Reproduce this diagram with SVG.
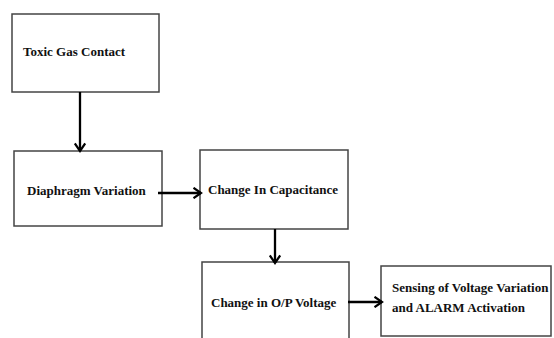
<svg xmlns="http://www.w3.org/2000/svg" width="554" height="338" viewBox="0 0 554 338">
<defs>
<marker id="ah" viewBox="0 0 12 12" refX="10.5" refY="6" markerWidth="12" markerHeight="12" markerUnits="userSpaceOnUse" orient="auto">
<path d="M3,0.8 L10.5,6 L3,11.2" fill="none" stroke="#000" stroke-width="2.2"/>
</marker>
<style>
.box{fill:#fff;stroke:#444;stroke-width:1.5}
.t{font-family:"Liberation Serif","Times New Roman",serif;font-weight:bold;font-size:13px;fill:#111}
.c{fill:none;stroke:#000;stroke-width:2.3;marker-end:url(#ah)}
</style>
</defs>
<rect width="554" height="338" fill="#fff"/>
<g id="n1"><rect class="box" x="12" y="14" width="147" height="78"/><text class="t" x="23" y="56">Toxic Gas Contact</text></g>
<g id="n2"><rect class="box" x="14" y="151" width="148" height="75"/><text class="t" x="27" y="195">Diaphragm Variation</text></g>
<g id="n3"><rect class="box" x="200" y="150" width="148" height="79"/><text class="t" x="208" y="194">Change In Capacitance</text></g>
<g id="n4"><rect class="box" x="202" y="262" width="147" height="90"/><text class="t" x="211" y="307">Change in O/P Voltage</text></g>
<g id="n5"><rect class="box" x="381" y="266" width="170" height="70"/><text class="t" x="392" y="292">Sensing of Voltage Variation</text><text class="t" x="392" y="312">and ALARM Activation</text></g>
<g id="connectors">
<line class="c" x1="80" y1="92" x2="80" y2="151"/>
<line class="c" x1="158" y1="193" x2="201" y2="193"/>
<line class="c" x1="275" y1="229" x2="275" y2="263"/>
<line class="c" x1="348" y1="302" x2="382" y2="302"/>
</g>
</svg>
